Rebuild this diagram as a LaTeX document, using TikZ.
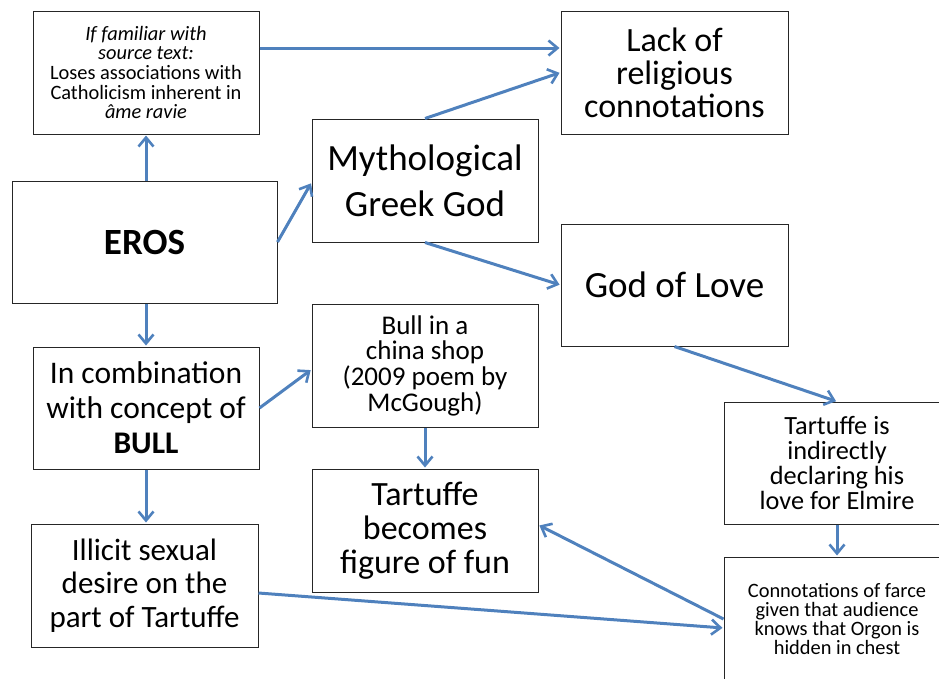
\documentclass[tikz,border=0pt]{standalone}
\usepackage{fontspec}
\setmainfont{Carlito}
\usetikzlibrary{arrows.meta}
\definecolor{linkblue}{RGB}{79,129,189}
\tikzset{
  box/.style={draw=black!85, line width=1pt, rectangle, inner sep=0pt, align=center},
  link/.style={draw=linkblue, line width=3pt,
    -{Straight Barb[length=9pt,width=15pt,line width=2.6pt]}, shorten >=1pt},
}
\newcommand{\fs}[2]{\fontsize{#1}{#2}\selectfont}
\begin{document}
\begin{tikzpicture}[x=1pt,y=-1pt]
\useasboundingbox (0,0) rectangle (939,678);

\node[box, minimum width=226, minimum height=123, font=\fs{20.4}{19.6}] (fam) at (146,72.5)
  {\itshape If familiar with\\ \itshape source text:\\ Loses associations with\\ Catholicism inherent in\\ \itshape âme ravie};
\node[box, minimum width=227, minimum height=123, font=\fs{34}{33}] (lack) at (674.5,72.5)
  {Lack of\\ religious\\ connotations};
\node[box, minimum width=265, minimum height=122, font=\fs{37}{44}\bfseries] (eros) at (144.5,242) {EROS};
\node[box, minimum width=226, minimum height=123, font=\fs{37}{46}] (myth) at (425,180.5)
  {Mythological\\ Greek God};
\node[box, minimum width=227, minimum height=122, font=\fs{37}{44}] (gol) at (674.5,285) {God of Love};
\node[box, minimum width=226, minimum height=122, font=\fs{31.5}{35}] (comb) at (146,408)
  {In combination\\ with concept of\\ \textbf{BULL}};
\node[box, minimum width=226, minimum height=123, font=\fs{27}{25.7}] (bull) at (425,365.5)
  {Bull in a\\ china shop\\ (2009 poem by\\ McGough)};
\node[box, minimum width=226, minimum height=123, font=\fs{34}{34}] (fun) at (425,530.5)
  {Tartuffe\\ becomes\\ figure of fun};
\node[box, minimum width=227, minimum height=123, font=\fs{31}{33.5}] (illicit) at (144.5,585.5)
  {Illicit sexual\\ desire on the\\ part of Tartuffe};
\node[box, minimum width=226, minimum height=122, font=\fs{26.3}{25.3}] (ind) at (837,463)
  {Tartuffe is\\ indirectly\\ declaring his\\ love for Elmire};
\node[box, minimum width=226, minimum height=124, font=\fs{20.4}{19.3}] (conn) at (837,619)
  {Connotations of farce\\ given that audience\\ knows that Orgon is\\ hidden in chest};

% connectors
\draw[link] (eros.north -| fam.south) -- (fam.south);
\draw[link] ([yshift=24.5pt]fam.east) -- ([yshift=24.5pt]lack.west);
\draw[link] (myth.north) -- (lack.west);
\draw[link] (eros.east) -- ([yshift=-2pt]myth.west);
\draw[link] (myth.south) -- (gol.west);
\draw[link] (eros.south -| comb.north) -- (comb.north);
\draw[link] (comb.east) -- ([yshift=-4pt]bull.west);
\draw[link] (bull.south) -- (fun.north);
\draw[link] (comb.south) -- (comb.south |- illicit.north);
\draw[link] ([yshift=-7.5pt]illicit.east) -- ([yshift=-9pt]conn.west);
\draw[link] (conn.west) -- ([yshift=5.5pt]fun.east);
\draw[link] (gol.south) -- (ind.north);
\draw[link] (ind.south) -- (conn.north);
\end{tikzpicture}
\end{document}
